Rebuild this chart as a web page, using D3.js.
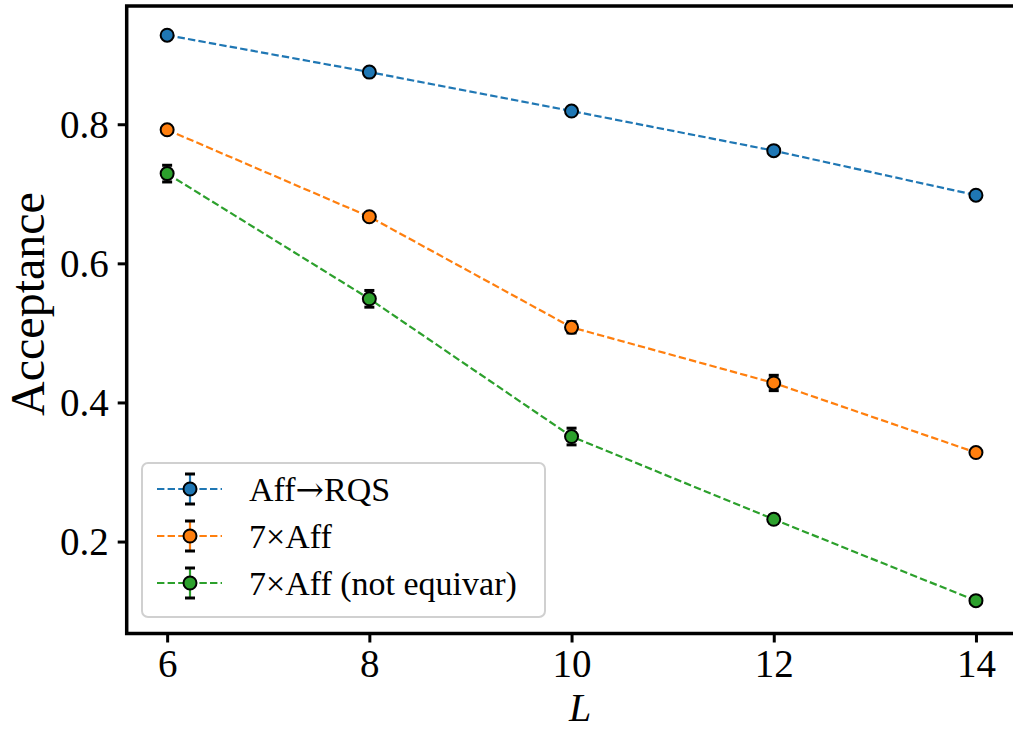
<!DOCTYPE html>
<html>
<head>
<meta charset="utf-8">
<script src="https://cdn.jsdelivr.net/npm/d3@7"></script>
<style>
  html, body { margin: 0; padding: 0; background: #fff; }
  svg { display: block; }
  text { font-family: "Liberation Serif", "DejaVu Serif", serif; fill: #000; }
</style>
</head>
<body>
<div id="chart"></div>
<script>
/*
** Data
*/
var Ls = [6, 8, 10, 12, 14]
  , seriesNames = ["Aff\u2192RQS", "7\u00d7Aff", "7\u00d7Aff (not equivar)"]
  , seriesColors = ["#1f77b4", "#ff7f0e", "#2ca02c"]
  , affRqs = [0.928, 0.875, 0.819, 0.762, 0.698]
  , affRqsErr = [0.002, 0.002, 0.002, 0.002, 0.002]
  , sevenAff = [0.792, 0.667, 0.508, 0.428, 0.328]
  , sevenAffErr = [0.003, 0.004, 0.008, 0.011, 0.004]
  , sevenAffNe = [0.729, 0.549, 0.351, 0.232, 0.115]
  , sevenAffNeErr = [0.012, 0.012, 0.012, 0.006, 0.004]
  , xTicks = [6, 8, 10, 12, 14]
  , yTicks = [0.2, 0.4, 0.6, 0.8]
  , xLabel = "L"
  , yLabel = "Acceptance"
;

/*
** Layout
*/
var width = 1013
  , height = 729
  , plot = { left: 126.7, top: 6, right: 1016.4, bottom: 633.5 }
  , x = d3.scaleLinear().domain([5.6, 14.4]).range([plot.left, plot.right])
  , y = d3.scaleLinear().domain([0.0678, 0.97]).range([plot.bottom, plot.top])
  , series = [
        { name: seriesNames[0], color: seriesColors[0], values: affRqs, errs: affRqsErr }
      , { name: seriesNames[1], color: seriesColors[1], values: sevenAff, errs: sevenAffErr }
      , { name: seriesNames[2], color: seriesColors[2], values: sevenAffNe, errs: sevenAffNeErr }
    ]
  , dash = "7.4,3.2"
  , lineW = 2.2
  , markerR = 6.5
;

var svg = d3.select("#chart").append("svg")
    .attr("width", width)
    .attr("height", height)
;

/*
** Axes
*/
var xAxis = d3.axisBottom(x)
    .tickValues(xTicks)
    .tickSize(9)
    .tickPadding(6)
    .tickFormat(d3.format("d"))
;
var yAxis = d3.axisLeft(y)
    .tickValues(yTicks)
    .tickSize(9)
    .tickPadding(9)
    .tickFormat(d3.format(".1f"))
;
var gx = svg.append("g")
    .attr("transform", "translate(0," + plot.bottom + ")")
    .call(xAxis)
;
var gy = svg.append("g")
    .attr("transform", "translate(" + plot.left + ",0)")
    .call(yAxis)
;
[gx, gy].forEach(function(g) {
    g.select(".domain").remove();
    g.selectAll(".tick line").attr("stroke", "#000").attr("stroke-width", 3);
    g.selectAll(".tick text")
        .style("font-size", "39px")
        .attr("font-family", null)
    ;
});
gx.selectAll(".tick text").attr("dy", "0.72em");
gy.selectAll(".tick text").attr("dy", "0.34em");

// frame
svg.append("rect")
    .attr("x", plot.left)
    .attr("y", plot.top)
    .attr("width", plot.right - plot.left)
    .attr("height", plot.bottom - plot.top)
    .attr("fill", "none")
    .attr("stroke", "#000")
    .attr("stroke-width", 3.5)
;

svg.append("text")
    .attr("x", 580)
    .attr("y", 721)
    .attr("text-anchor", "middle")
    .style("font-size", "40px")
    .style("font-style", "italic")
    .text(xLabel)
;
svg.append("text")
    .attr("transform", "translate(44,304) rotate(-90)")
    .attr("text-anchor", "middle")
    .style("font-size", "48px")
    .text(yLabel)
;

/*
** Series
*/
var line = d3.line()
    .x(function(d, i) { return x(Ls[i]); })
    .y(function(d) { return y(d); })
;
var gs = svg.append("g")
  .selectAll("g")
    .data(series)
  .enter().append("g")
;
gs.append("path")
    .attr("d", function(s) { return line(s.values); })
    .attr("fill", "none")
    .attr("stroke", function(s) { return s.color; })
    .attr("stroke-width", lineW)
    .attr("stroke-dasharray", dash)
;
gs.each(function(s) {
    var self = d3.select(this)
      , pts = s.values.map(function(v, i) { return { l: Ls[i], v: v, e: s.errs[i] }; })
    ;
    self.selectAll(".bar")
        .data(pts)
      .enter().append("line")
        .attr("x1", function(d) { return x(d.l); })
        .attr("x2", function(d) { return x(d.l); })
        .attr("y1", function(d) { return y(d.v - d.e); })
        .attr("y2", function(d) { return y(d.v + d.e); })
        .attr("stroke", s.color)
        .attr("stroke-width", lineW)
    ;
    self.selectAll(".cap")
        .data(pts.concat(pts.map(function(d) { return { l: d.l, v: d.v, e: -d.e }; })))
      .enter().append("line")
        .attr("x1", function(d) { return x(d.l) - 5; })
        .attr("x2", function(d) { return x(d.l) + 5; })
        .attr("y1", function(d) { return y(d.v + d.e); })
        .attr("y2", function(d) { return y(d.v + d.e); })
        .attr("stroke", "#000")
        .attr("stroke-width", 3)
    ;
    self.selectAll("circle")
        .data(pts)
      .enter().append("circle")
        .attr("cx", function(d) { return x(d.l); })
        .attr("cy", function(d) { return y(d.v); })
        .attr("r", markerR)
        .attr("fill", s.color)
        .attr("stroke", "#000")
        .attr("stroke-width", 2)
    ;
});

/*
** Legend
*/
var legend = svg.append("g").attr("transform", "translate(142,463)");
legend.append("rect")
    .attr("width", 403)
    .attr("height", 154)
    .attr("rx", 6)
    .attr("fill", "#fff")
    .attr("fill-opacity", 0.8)
    .attr("stroke", "#d0d0d0")
    .attr("stroke-width", 2)
;
var items = legend.selectAll(".item")
    .data(series)
  .enter().append("g")
    .attr("transform", function(d, i) { return "translate(0," + (26 + i * 47) + ")"; })
;
items.append("line")
    .attr("x1", 15).attr("x2", 80)
    .attr("stroke", function(s) { return s.color; })
    .attr("stroke-width", lineW)
    .attr("stroke-dasharray", dash)
;
items.append("line")
    .attr("x1", 48).attr("x2", 48)
    .attr("y1", -15).attr("y2", 15)
    .attr("stroke", function(s) { return s.color; })
    .attr("stroke-width", lineW)
;
[-15, 15].forEach(function(dy) {
    items.append("line")
        .attr("x1", 43).attr("x2", 53)
        .attr("y1", dy).attr("y2", dy)
        .attr("stroke", "#000")
        .attr("stroke-width", 3)
    ;
});
items.append("circle")
    .attr("cx", 48)
    .attr("r", markerR)
    .attr("fill", function(s) { return s.color; })
    .attr("stroke", "#000")
    .attr("stroke-width", 2)
;
// the arrow glyph in Liberation is tiny, borrow DejaVu's for it
items.append("text")
    .attr("x", 107)
    .attr("dy", "0.35em")
    .style("font-size", "34px")
    .each(function(s) {
        var self = d3.select(this);
        s.name.split(/(\u2192)/).forEach(function(part) {
            if(!part) return;
            self.append("tspan")
                .style("font-family", part === "\u2192" ? "'DejaVu Serif', serif" : null)
                .text(part)
            ;
        });
    })
;
</script>
</body>
</html>
